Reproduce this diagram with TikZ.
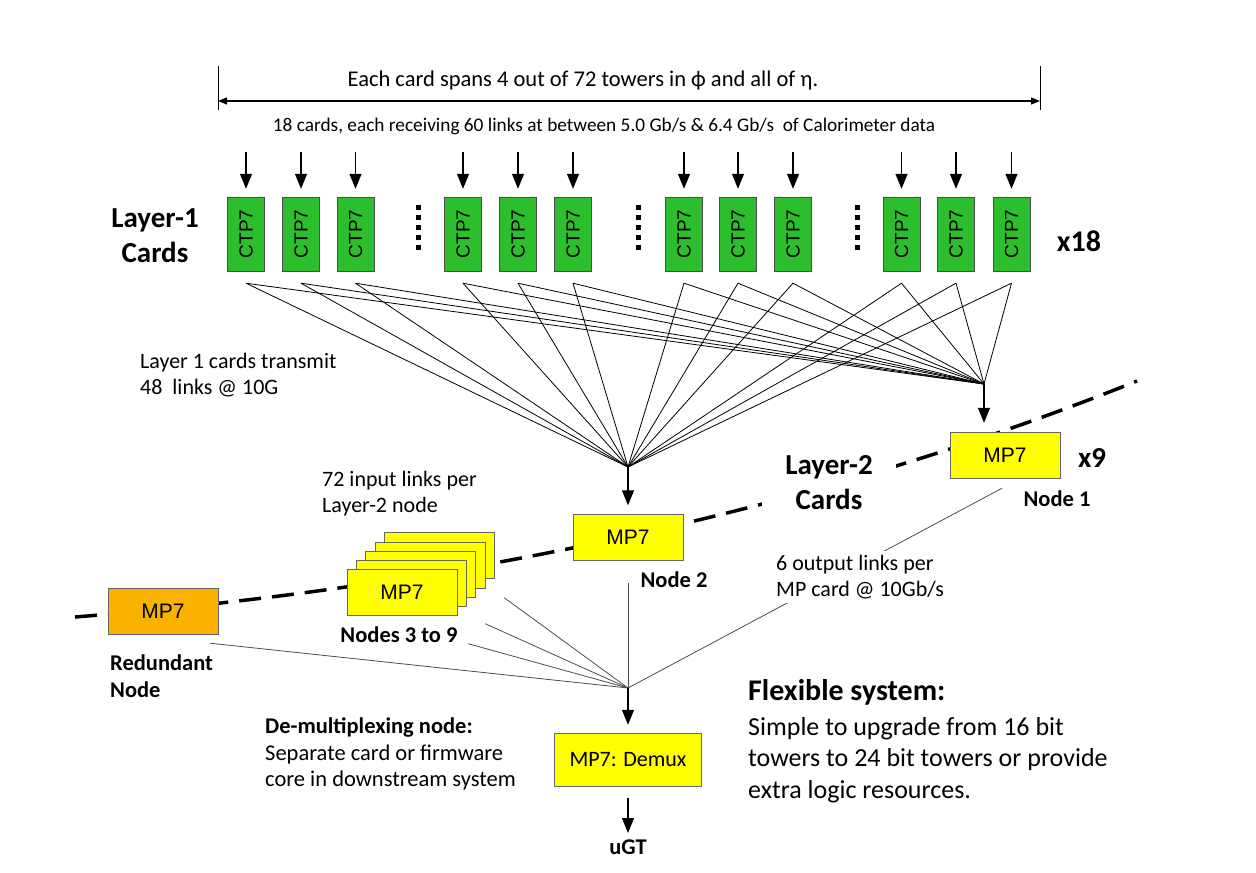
\documentclass[tikz,border=0pt]{standalone}
\usepackage{fontspec}
\setmainfont{Carlito}
\newfontfamily\arialf{Liberation Sans}
\usetikzlibrary{arrows.meta}
\definecolor{ctpgreen}{RGB}{45,190,45}
\definecolor{mpyellow}{RGB}{255,255,0}
\definecolor{mporange}{RGB}{250,178,0}
\begin{document}
\begin{tikzpicture}[x=1pt,y=-1pt,
  ctpbox/.style={draw=black!70, fill=ctpgreen, minimum width=74pt, minimum height=37pt, inner sep=0pt, rotate=90, font=\arialf\fontsize{19}{19}\selectfont},
  mpbox/.style={draw=black!60, fill=mpyellow, minimum width=110pt, minimum height=46pt, inner sep=0pt, font=\arialf\fontsize{21}{21}\selectfont},
  arr/.style={line width=1.3pt, -{Triangle[width=12pt,length=15pt]}},
  fanline/.style={line width=0.8pt, black},
  linkline/.style={line width=0.8pt, black!70},
  lbl/.style={font=\fontsize{22}{26}\selectfont, align=left, inner sep=0pt},
  blbl/.style={font=\bfseries\fontsize{22.5}{27}\selectfont, align=left, inner sep=0pt},
  biglbl/.style={font=\bfseries\fontsize{29}{35}\selectfont, align=center, inner sep=0pt},
  dotmark/.style={fill=black}
]
\useasboundingbox (0,0) rectangle (1256,873);

% dimension line and titles
\coordinate (dl) at (218,101);
\coordinate (dr) at (1040,101);
\coordinate (dlt) at (218,66);
\coordinate (dlb) at (218,110);
\coordinate (drt) at (1040,66);
\coordinate (drb) at (1040,110);
\draw[line width=0.8pt] (dlt) -- (dlb);
\draw[line width=0.8pt] (drt) -- (drb);
\draw[line width=1.2pt, {Triangle[width=7pt,length=9pt]}-{Triangle[width=7pt,length=9pt]}] (dl) -- (dr);
\node[font=\fontsize{22.5}{26}\selectfont] (t1) at (583,80) {Each card spans 4 out of 72 towers in ϕ and all of η.};
\node[font=\fontsize{19.3}{22}\selectfont] (t2) at (604,126) {18 cards, each receiving 60 links at between 5.0 Gb/s \& 6.4 Gb/s\ \ of Calorimeter data};

% Layer-1 cards
\node[biglbl] (l1) at (155,236) {Layer-1\\Cards};
\foreach \i/\x in {1/246,2/301,3/355.5,4/463,5/518,6/573,7/684,8/738,9/793,10/901.5,11/956,12/1011.5}{
  \node[ctpbox] (c\i) at (\x,234) {CTP7};
  \draw[arr, shorten >=8pt] (c\i.east) ++(0,-45) -- (c\i.east);
}
\foreach \x in {418,638,857}{
  \foreach \y in {207,217,227,237,247}{
    \fill[dotmark] (\x-2.5,\y-2.5) rectangle (\x+2.5,\y+2.5);
  }
}
\node[font=\bfseries\fontsize{30}{30}\selectfont] (x18) at (1079,241) {x18};

% dashed Layer-2 boundary
\draw[line width=3.5pt, dash pattern=on 22pt off 11pt] (75,617) .. controls (468,585.5) and (822,507.5) .. (1137,381);

% fan points
\coordinate (f2) at (628,467);
\coordinate (f1) at (984,384);
\coordinate (fb) at (628,688);
\foreach \i in {1,...,12}{
  \draw[fanline] ([yshift=-12pt]c\i.west) -- (f2);
  \draw[fanline] ([yshift=-12pt]c\i.west) -- (f1);
}

% Layer-2 nodes
\node[mpbox] (n1) at (1005,455) {MP7};
\node[mpbox] (n2) at (628,537.5) {MP7};
\node[mpbox, fill=mporange] (r) at (163,611) {MP7};
\foreach \k in {4,3,2,1}{
  \node[mpbox] (s\k) at (402+9.25*\k, 592.5-9.25*\k) {};
}
\node[mpbox] (s0) at (402,592.5) {MP7};

\draw[arr, shorten >=9pt] (f2) -- (f2 |- n2.north);
\draw[arr, shorten >=9pt] (f1) -- (f1 |- n1.north);

% links to the demux
\draw[linkline] ([yshift=-22pt]n2.south) -- (fb);
\draw[linkline] ([xshift=-3pt,yshift=-10pt]n1.south) -- (fb);
\draw[linkline] ([xshift=-8pt,yshift=-9pt]r.south east) -- (fb);
\draw[linkline] ([xshift=47pt,yshift=18pt]s0.south east) -- (fb);
\draw[linkline] ([xshift=28pt,yshift=-8pt]s0.south east) -- (fb);
\draw[linkline] ([xshift=11pt,yshift=-28pt]s0.south east) -- (fb);

\node[mpbox, font=\fontsize{22}{22}\selectfont, minimum width=147pt, minimum height=53pt] (dm) at (628,759.5) {MP7: Demux};
\draw[arr, shorten >=8pt] (fb) -- (dm.north);
\coordinate (dmo) at (628,833);
\draw[arr] ([yshift=-12pt]dm.south) -- (dmo);
\node[blbl] (ugt) at (628,847) {uGT};

% labels
\node[biglbl, fill=white, inner xsep=23pt, inner ysep=3pt] (l2) at (829,483) {Layer-2\\Cards};
\node[font=\bfseries\fontsize{29}{29}\selectfont] (x9) at (1092,458) {x9};
\node[blbl] (n1l) at (1057,499) {Node 1};
\node[blbl] (n2l) at (674,580) {Node 2};
\node[blbl] (s0l) at (399,635) {Nodes 3 to 9};
\node[blbl, anchor=west] (rl) at (110,676) {Redundant\\Node};
\node[lbl, anchor=west] (t3) at (140,375) {Layer 1 cards transmit\\48\ \ links @ 10G};
\node[lbl, anchor=west] (t4) at (322,494) {72 input links per\\Layer-2 node};
\node[lbl, anchor=west, fill=white, inner sep=4pt] (t5) at (772,577) {6 output links per\\MP card @ 10Gb/s};
\node[lbl, anchor=west, font=\fontsize{22.5}{26.5}\selectfont] (t6) at (265,754) {\textbf{De-multiplexing node:}\\Separate card or firmware\\core in downstream system};
\node[font=\bfseries\fontsize{30}{30}\selectfont, anchor=west, inner sep=0pt] (t7) at (748,692) {Flexible system:};
\node[font=\fontsize{26}{31.5}\selectfont, anchor=west, align=left, inner sep=0pt] (t8) at (748,760) {Simple to upgrade from 16 bit\\towers to 24 bit towers or provide\\extra logic resources.};
\end{tikzpicture}
\end{document}
